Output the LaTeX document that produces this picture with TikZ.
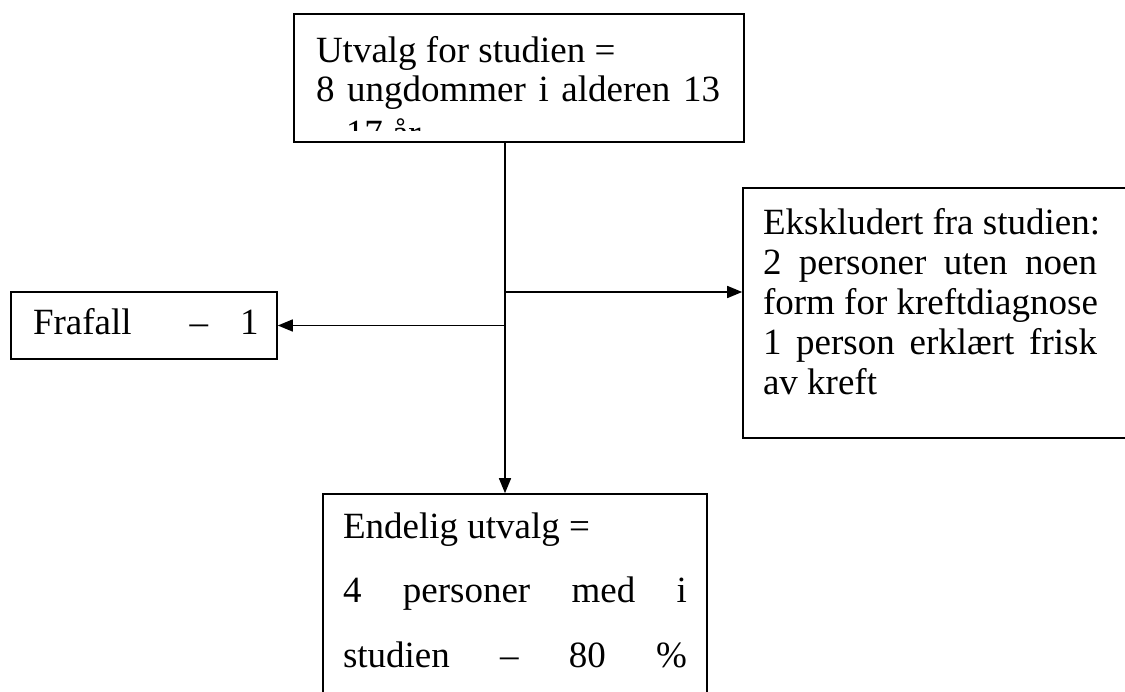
\documentclass[tikz,border=0pt]{standalone}
\usepackage{fontspec}
\setmainfont{Liberation Serif}
\usetikzlibrary{arrows.meta}
\tikzset{
  box/.style={draw=black, line width=1.6pt, fill=none, inner sep=0pt},
  txt/.style={anchor=base west, inner sep=0pt, outer sep=0pt, font=\fontsize{37pt}{40pt}\selectfont},
  arr/.style={line width=1.5pt, -{Triangle[length=15pt,width=12pt]}},
}
\newcommand{\jline}[2]{\makebox[#1][s]{#2}}
\begin{document}
\begin{tikzpicture}[x=1pt,y=-1pt]
\useasboundingbox (0,0) rectangle (1125,692);
\fill[white] (0,0) rectangle (1125,692);
\begin{scope}
\clip (0,0) rectangle (1125,692);
% boxes
\node[box, minimum width=450pt, minimum height=128pt] (top) at (519,78) {};
\node[box, minimum width=387pt, minimum height=250pt] (ex) at (936.5,313) {};
\node[box, minimum width=266pt, minimum height=67pt] (fr) at (144,325.5) {};
\node[box, minimum width=384pt, minimum height=226pt] (bot) at (515,607) {};
% top box text (clipped third line)
\begin{scope}
\clip (294,14) rectangle (744,131);
\node[txt] (t1) at (316,63) {Utvalg for studien =};
\node[txt] (t2) at (316,102) {\jline{404pt}{8 ungdommer i alderen 13}};
\node[txt] (t3) at (318,146) {– 17 år};
\end{scope}
% excluded box text
\node[txt] (e1) at (763,235) {Ekskludert fra studien:};
\node[txt] (e2) at (763,275) {\jline{334pt}{2 personer uten noen}};
\node[txt] (e3) at (763,315) {form for kreftdiagnose};
\node[txt] (e4) at (763,355) {\jline{334pt}{1 person erklært frisk}};
\node[txt] (e5) at (763,395) {av kreft};
% frafall text
\node[txt] (f1) at (33,335) {Frafall\hspace{58pt}–\hspace{32pt}1};
% final box text
\node[txt] (b1) at (343,538) {Endelig utvalg =};
\node[txt] (b2) at (343,602) {\jline{344pt}{4 personer med i}};
\node[txt] (b3) at (343,667) {\jline{344pt}{studien – 80 \%}};
% connectors
\coordinate (spine) at (505,0);
\coordinate (jr) at (505,292);
\draw[arr] (spine |- top.south) -- (spine |- bot.north);
\draw[arr] (jr) -- (jr -| ex.west);
\draw[arr] (spine |- fr.east) -- (fr.east);
\end{scope}
\end{tikzpicture}
\end{document}
